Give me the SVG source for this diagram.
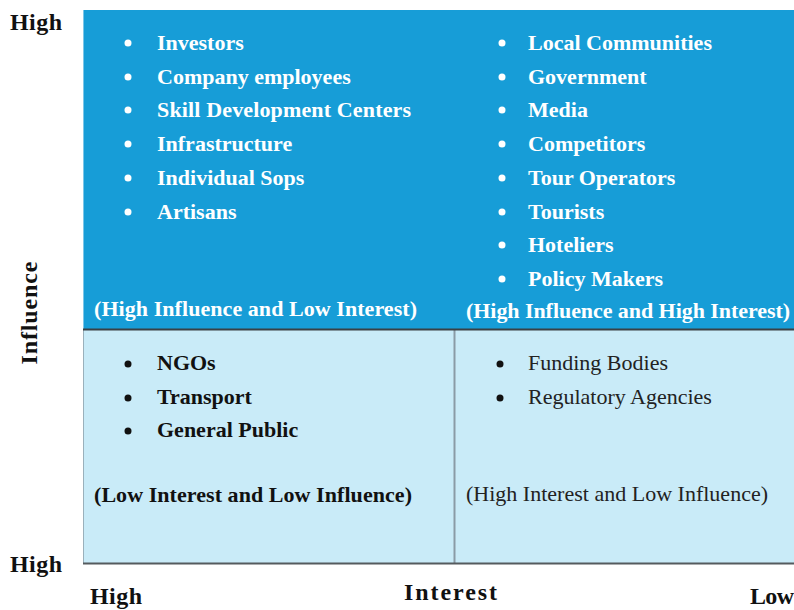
<svg xmlns="http://www.w3.org/2000/svg" width="794" height="610" viewBox="0 0 794 610">
<style>
text{font-family:"Liberation Serif","Times New Roman",serif;}
.ax{font-size:24px;font-weight:bold;fill:#111;}
.w{font-size:22px;font-weight:bold;fill:#fff;}
.b{font-size:22px;font-weight:bold;fill:#111;}
.r{font-size:22px;fill:#222;}
.bw{fill:#fff;}
.bk{fill:#111;}
</style>
<rect width="794" height="610" fill="#fff"/>
<g id="q-top">
<rect x="83" y="10" width="711" height="319" fill="#179dd7"/>
<line x1="83.5" y1="10" x2="83.5" y2="329" stroke="#7cc6e8" stroke-width="1"/>
</g>
<g id="q-bottom">
<rect x="83" y="330" width="711" height="233" fill="#c9ebf8"/>
<line x1="83.5" y1="330" x2="83.5" y2="563" stroke="#9ab0bb" stroke-width="1"/>
<line x1="454.5" y1="330" x2="454.5" y2="563" stroke="#8a9ba6" stroke-width="2"/>
<line x1="83" y1="329.5" x2="794" y2="329.5" stroke="#3a4044" stroke-width="2"/>
<line x1="83" y1="563.5" x2="794" y2="563.5" stroke="#555b5e" stroke-width="2"/>
</g>
<g id="tl">
<g class="bw"><circle cx="128" cy="43" r="3.5"/><circle cx="128" cy="77" r="3.5"/><circle cx="128" cy="110" r="3.5"/><circle cx="128" cy="144" r="3.5"/><circle cx="128" cy="178" r="3.5"/><circle cx="128" cy="212" r="3.5"/></g>
<text class="w" x="157" y="50">Investors</text>
<text class="w" x="157" y="84">Company employees</text>
<text class="w" x="157" y="117" textLength="254">Skill Development Centers</text>
<text class="w" x="157" y="151">Infrastructure</text>
<text class="w" x="157" y="185">Individual Sops</text>
<text class="w" x="157" y="219">Artisans</text>
<text class="w" x="94" y="316" textLength="323">(High Influence and Low Interest)</text>
</g>
<g id="tr">
<g class="bw"><circle cx="502" cy="43" r="3.5"/><circle cx="502" cy="77" r="3.5"/><circle cx="502" cy="110" r="3.5"/><circle cx="502" cy="144" r="3.5"/><circle cx="502" cy="178" r="3.5"/><circle cx="502" cy="212" r="3.5"/><circle cx="502" cy="245" r="3.5"/><circle cx="502" cy="279" r="3.5"/></g>
<text class="w" x="528" y="50">Local Communities</text>
<text class="w" x="528" y="84">Government</text>
<text class="w" x="528" y="117">Media</text>
<text class="w" x="528" y="151">Competitors</text>
<text class="w" x="528" y="185">Tour Operators</text>
<text class="w" x="528" y="219">Tourists</text>
<text class="w" x="528" y="252">Hoteliers</text>
<text class="w" x="528" y="286">Policy Makers</text>
<text class="w" x="466" y="318" textLength="324">(High Influence and High Interest)</text>
</g>
<g id="bl">
<g class="bk"><circle cx="128" cy="364" r="3.5"/><circle cx="128" cy="398" r="3.5"/><circle cx="128" cy="431" r="3.5"/></g>
<text class="b" x="157" y="370">NGOs</text>
<text class="b" x="157" y="404">Transport</text>
<text class="b" x="157" y="437">General Public</text>
<text class="b" x="94" y="502" textLength="318">(Low Interest and Low Influence)</text>
</g>
<g id="br">
<g class="bk"><circle cx="500" cy="364" r="3.5"/><circle cx="500" cy="398" r="3.5"/></g>
<text class="r" x="528" y="370">Funding Bodies</text>
<text class="r" x="528" y="404">Regulatory Agencies</text>
<text class="r" x="466" y="501" textLength="302">(High Interest and Low Influence)</text>
</g>
<g id="axes">
<text class="ax" x="10" y="30" textLength="52">High</text>
<text class="ax" x="10" y="572" textLength="52">High</text>
<text class="ax" x="90" y="604" textLength="52">High</text>
<text class="ax" x="404" y="600" textLength="93">Interest</text>
<text class="ax" x="750" y="604" textLength="44">Low</text>
<text class="ax" x="0" y="0" transform="translate(37,313) rotate(-90)" text-anchor="middle" textLength="103">Influence</text>
</g>
</svg>
